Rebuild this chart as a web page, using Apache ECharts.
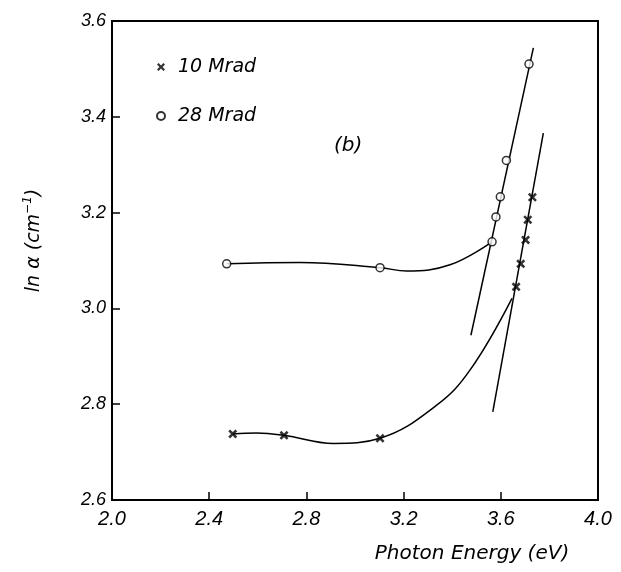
<!DOCTYPE html>
<html>
<head>
<meta charset="utf-8">
<script src="https://cdn.jsdelivr.net/npm/echarts@6/dist/echarts.min.js"></script>
<style>
  html, body { margin: 0; padding: 0; background: #fff; }
  #chart { width: 621px; height: 572px; }
</style>
</head>
<body>
<div id="chart"></div>
<script>
// axis ranges
const xMin = 2.0, xMax = 4.0, xStep = 0.4;
const yMin = 2.6, yMax = 3.6, yStep = 0.2;

// measured points (photon energy eV, ln alpha)
const mrad10 = [[2.497, 2.738], [2.708, 2.735], [3.103, 2.729], [3.663, 3.045],
                [3.682, 3.093], [3.702, 3.143], [3.711, 3.185], [3.730, 3.232]];
const mrad28 = [[2.472, 3.093], [3.103, 3.085], [3.564, 3.139], [3.580, 3.191],
                [3.598, 3.233], [3.623, 3.309], [3.716, 3.510]];

// hand drawn curves, guide points
const curve10 = [[2.497, 2.738], [2.595, 2.740], [2.708, 2.735], [2.911, 2.718],
                 [3.103, 2.729], [3.336, 2.798], [3.473, 2.871], [3.646, 3.021]];
const curve28 = [[2.472, 3.093], [2.774, 3.096], [3.103, 3.085], [3.213, 3.078],
                 [3.391, 3.091], [3.564, 3.139]];

// straight line fits (end points)
const fit10 = [[3.567, 2.784], [3.775, 3.366]];
const fit28 = [[3.477, 2.944], [3.734, 3.544]];

const crossPath = 'path://M0,2L2,0L5,3L8,0L10,2L7,5L10,8L8,10L5,7L2,10L0,8L3,5Z';
const font = 'DejaVu Sans';
const numFont = 'Liberation Sans';

let chart = echarts.init(document.getElementById('chart'));

function lineSeries(data, smooth){
    return {
        type: 'line',
        data: data,
        smooth: smooth,
        showSymbol: false,
        silent: true,
        lineStyle: { color: '#000', width: 1.5 },
        z: 2
    };
}

let option = {
    animation: false,
    backgroundColor: '#fff',
    grid: {
        left: 112, right: 23, top: 21, bottom: 72,
        show: true, borderColor: '#000', borderWidth: 2
    },
    legend: {
        orient: 'vertical',
        left: 156, top: 57,
        padding: 0,
        itemWidth: 8, itemHeight: 8,
        itemGap: 29,
        textStyle: {
            fontFamily: font, fontStyle: 'italic', fontSize: 19,
            color: '#000', lineHeight: 20, padding: [0, 0, 0, 8]
        },
        data: ['10 Mrad', '28 Mrad']
    },
    graphic: [{
        type: 'text',
        left: 334, top: 136,
        style: { text: '(b)', font: 'italic 20px "DejaVu Sans"', fill: '#000' }
    }],
    xAxis: {
        type: 'value',
        min: xMin, max: xMax, interval: xStep,
        name: 'Photon Energy (eV)',
        nameLocation: 'middle',
        nameGap: 44,
        nameTextStyle: {
            fontFamily: font, fontStyle: 'italic', fontSize: 20, color: '#000',
            padding: [0, 0, 0, 234]
        },
        axisLine: { lineStyle: { color: '#000', width: 2 } },
        axisTick: { inside: true, length: 8, lineStyle: { color: '#000', width: 1.5 } },
        splitLine: { show: false },
        axisLabel: {
            margin: 9,
            fontFamily: numFont, fontStyle: 'italic', fontSize: 20, color: '#000',
            formatter: v => v.toFixed(1)
        }
    },
    yAxis: {
        type: 'value',
        min: yMin, max: yMax, interval: yStep,
        name: '{a|ln α (cm}{s|−1}{a|)}',
        nameLocation: 'middle',
        nameGap: 66,
        nameTextStyle: {
            padding: [0, 0, 0, 40],
            rich: {
                a: { fontFamily: font, fontStyle: 'italic', fontSize: 19, color: '#000', lineHeight: 24 },
                s: { fontFamily: font, fontStyle: 'italic', fontSize: 12, color: '#000', verticalAlign: 'top', lineHeight: 24 }
            }
        },
        axisLine: { lineStyle: { color: '#000', width: 2 } },
        axisTick: { inside: true, length: 8, lineStyle: { color: '#000', width: 1.5 } },
        splitLine: { show: false },
        axisLabel: {
            margin: 6,
            fontFamily: numFont, fontStyle: 'italic', fontSize: 18, color: '#000',
            formatter: v => v.toFixed(1)
        }
    },
    series: [
        lineSeries(curve10, 0.4),
        lineSeries(curve28, 0.4),
        lineSeries(fit10, false),
        lineSeries(fit28, false),
        {
            name: '10 Mrad',
            type: 'scatter',
            data: mrad10,
            symbol: crossPath,
            symbolSize: 9,
            itemStyle: { color: '#000' },
            z: 5
        },
        {
            name: '28 Mrad',
            type: 'scatter',
            data: mrad28,
            symbol: 'circle',
            symbolSize: 8,
            itemStyle: { color: '#fff', borderColor: '#000', borderWidth: 1.5 },
            z: 5
        }
    ]
};

chart.setOption(option);
</script>
</body>
</html>
